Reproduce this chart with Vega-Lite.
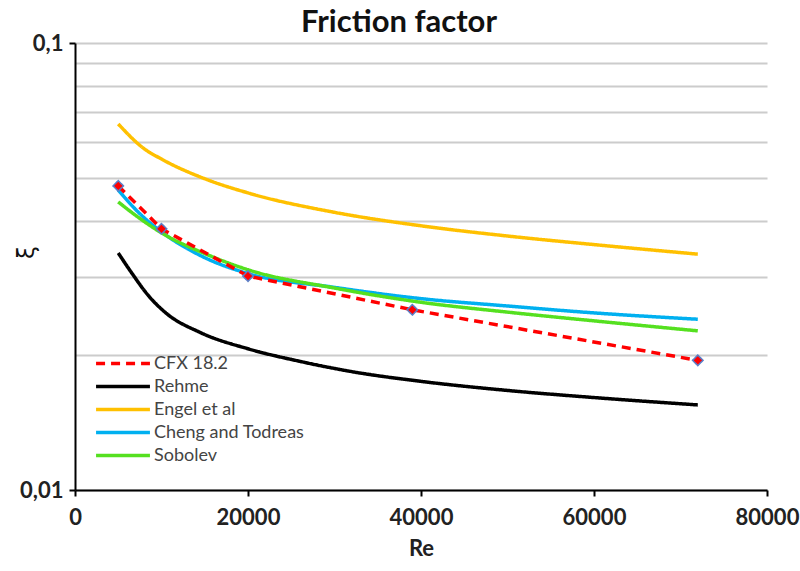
{
  "$schema": "https://vega.github.io/schema/vega-lite/v6.json",
  "autosize": {"type": "none"},
  "width": 692,
  "height": 447,
  "padding": {"left": 75, "top": 43, "right": 33, "bottom": 81},
  "background": "white",
  "config": {"font": "Lato", "view": {"stroke": null}},
  "title": {"text": "Friction factor", "fontSize": 31, "fontWeight": "bold", "font": "Lato", "color": "#111", "anchor": "middle", "dx": -22, "offset": -7},
  "data": {"values": [
    {"series": "CFX 18.2", "Re": 5000, "f": 0.0479},
    {"series": "CFX 18.2", "Re": 10000, "f": 0.0384},
    {"series": "CFX 18.2", "Re": 20000, "f": 0.0301},
    {"series": "CFX 18.2", "Re": 39000, "f": 0.0253},
    {"series": "CFX 18.2", "Re": 72000, "f": 0.0195},
    {"series": "Rehme", "Re": 5000, "f": 0.0339},
    {"series": "Rehme", "Re": 6500, "f": 0.0307},
    {"series": "Rehme", "Re": 8500, "f": 0.0272},
    {"series": "Rehme", "Re": 10500, "f": 0.0249},
    {"series": "Rehme", "Re": 14500, "f": 0.0225},
    {"series": "Rehme", "Re": 20000, "f": 0.0207},
    {"series": "Rehme", "Re": 26000, "f": 0.0194},
    {"series": "Rehme", "Re": 32000, "f": 0.0184},
    {"series": "Rehme", "Re": 40000, "f": 0.0175},
    {"series": "Rehme", "Re": 50000, "f": 0.0167},
    {"series": "Rehme", "Re": 60000, "f": 0.0161},
    {"series": "Rehme", "Re": 72000, "f": 0.0155},
    {"series": "Engel et al", "Re": 5000, "f": 0.0659},
    {"series": "Engel et al", "Re": 8000, "f": 0.0580},
    {"series": "Engel et al", "Re": 10000, "f": 0.0550},
    {"series": "Engel et al", "Re": 15000, "f": 0.0497},
    {"series": "Engel et al", "Re": 20000, "f": 0.0462},
    {"series": "Engel et al", "Re": 30000, "f": 0.0418},
    {"series": "Engel et al", "Re": 40000, "f": 0.0390},
    {"series": "Engel et al", "Re": 50000, "f": 0.0370},
    {"series": "Engel et al", "Re": 60000, "f": 0.0354},
    {"series": "Engel et al", "Re": 72000, "f": 0.0337},
    {"series": "Cheng and Todreas", "Re": 5000, "f": 0.0469},
    {"series": "Cheng and Todreas", "Re": 7500, "f": 0.0415},
    {"series": "Cheng and Todreas", "Re": 10000, "f": 0.0378},
    {"series": "Cheng and Todreas", "Re": 15000, "f": 0.0331},
    {"series": "Cheng and Todreas", "Re": 20000, "f": 0.0305},
    {"series": "Cheng and Todreas", "Re": 30000, "f": 0.0284},
    {"series": "Cheng and Todreas", "Re": 40000, "f": 0.0268},
    {"series": "Cheng and Todreas", "Re": 50000, "f": 0.0258},
    {"series": "Cheng and Todreas", "Re": 60000, "f": 0.0249},
    {"series": "Cheng and Todreas", "Re": 72000, "f": 0.0241},
    {"series": "Sobolev", "Re": 5000, "f": 0.0441},
    {"series": "Sobolev", "Re": 7500, "f": 0.0405},
    {"series": "Sobolev", "Re": 10000, "f": 0.0376},
    {"series": "Sobolev", "Re": 15000, "f": 0.0338},
    {"series": "Sobolev", "Re": 20000, "f": 0.0311},
    {"series": "Sobolev", "Re": 30000, "f": 0.0283},
    {"series": "Sobolev", "Re": 40000, "f": 0.0263},
    {"series": "Sobolev", "Re": 50000, "f": 0.0250},
    {"series": "Sobolev", "Re": 60000, "f": 0.0239},
    {"series": "Sobolev", "Re": 72000, "f": 0.0227}
  ]},
  "encoding": {
    "x": {"field": "Re", "type": "quantitative",
      "scale": {"domain": [0, 80000], "nice": false},
      "axis": {"values": [0, 20000, 40000, 60000, 80000], "format": "d", "grid": false,
        "title": "Re", "titleFontSize": 22, "titleFontWeight": "bold", "titleColor": "#222", "titlePadding": 10,
        "labelFontSize": 22, "labelFontWeight": "bold", "labelColor": "#222", "labelPadding": 11, "labelFlush": false,
        "domainColor": "#000", "domainWidth": 2, "tickColor": "#000", "tickWidth": 2, "tickSize": 6}},
    "y": {"field": "f", "type": "quantitative",
      "scale": {"type": "log", "domain": [0.01, 0.1], "nice": false},
      "axis": {"values": [0.01, 0.02, 0.03, 0.04, 0.05, 0.06, 0.07, 0.08, 0.09, 0.1],
        "labelExpr": "datum.value == 0.1 ? '0,1' : (datum.value == 0.01 ? '0,01' : '')",
        "grid": true, "gridColor": "#cccccc", "gridWidth": 2,
        "title": "ξ", "titleFont": "DejaVu Sans", "titleFontSize": 23, "titleFontWeight": "normal", "titleColor": "#111",
        "titleX": -49, "titleY": 209, "titleAlign": "center", "titleBaseline": "middle",
        "labelFontSize": 22, "labelFontWeight": "bold", "labelColor": "#222", "labelPadding": 6,
        "domainColor": "#000", "domainWidth": 2, "tickColor": "#000", "tickWidth": 2, "tickSize": 6,
        "tickOpacity": {"condition": {"test": "datum.value == 0.1 || datum.value == 0.01", "value": 1}, "value": 0}}},
    "color": {"field": "series", "type": "nominal",
      "scale": {"domain": ["CFX 18.2", "Rehme", "Engel et al", "Cheng and Todreas", "Sobolev"],
        "range": ["#ff0000", "#000000", "#ffc000", "#00b0f0", "#55e020"]},
      "legend": {"title": null, "orient": "none", "legendX": 34, "legendY": 306.5, "symbolType": "M-2.2,0H2.2",
        "symbolSize": 600, "symbolStrokeWidth": 3.5, "labelFontSize": 18, "labelColor": "#444", "labelFont": "Lato",
        "rowPadding": 0, "labelOffset": 17}},
    "strokeDash": {"field": "series", "type": "nominal",
      "scale": {"domain": ["CFX 18.2", "Rehme", "Engel et al", "Cheng and Todreas", "Sobolev"],
        "range": [[9, 6], [1, 0], [1, 0], [1, 0], [1, 0]]},
      "legend": {"title": null, "orient": "none", "legendX": 34, "legendY": 306.5, "symbolType": "M-2.2,0H2.2",
        "symbolSize": 600, "symbolStrokeWidth": 3.5, "labelFontSize": 18, "labelColor": "#444", "labelFont": "Lato",
        "rowPadding": 0, "labelOffset": 17}}
  },
  "layer": [
    {"transform": [{"filter": "datum.series != 'CFX 18.2'"}],
     "mark": {"type": "line", "interpolate": "monotone", "strokeWidth": 3.5}},
    {"transform": [{"filter": "datum.series == 'CFX 18.2'"}],
     "mark": {"type": "line", "strokeWidth": 3.5}},
    {"transform": [{"filter": "datum.series == 'CFX 18.2'"}],
     "mark": {"type": "point", "shape": "diamond", "filled": true, "size": 110, "fill": "#ff0000", "stroke": "#5b7fc8", "strokeWidth": 1.5, "opacity": 1},
     "encoding": {"color": {"value": "#ff0000"}, "strokeDash": {"value": [1, 0]}}}
  ]
}
